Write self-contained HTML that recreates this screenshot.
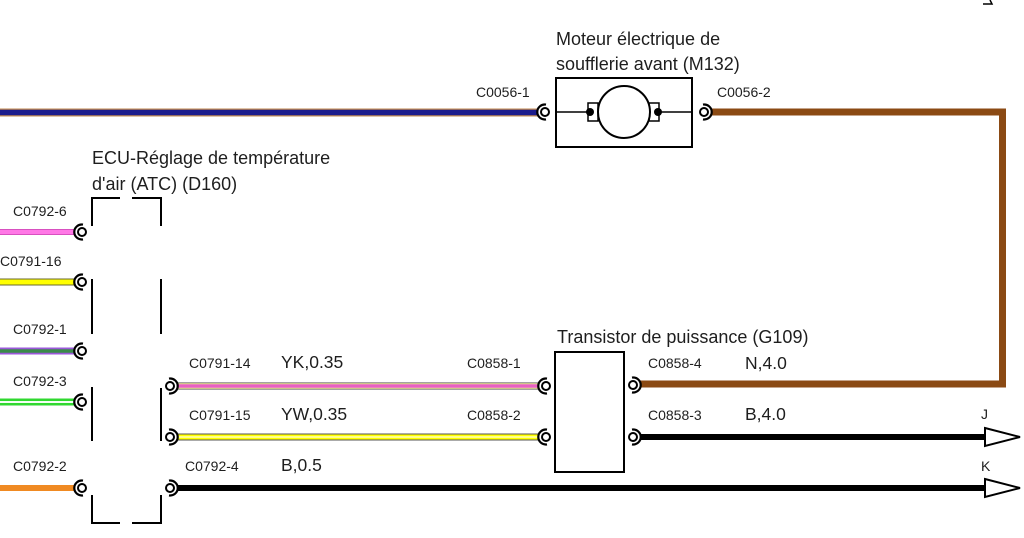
<!DOCTYPE html>
<html><head><meta charset="utf-8"><style>
html,body{margin:0;padding:0;background:#fff;}
svg{display:block;}
text{font-family:"Liberation Sans",Arial,sans-serif;fill:#1e1e1e;}
.s{font-size:14px;}
.m{font-size:17.5px;}
.b{font-size:18px;}
</style></head><body>
<svg width="1024" height="538" viewBox="0 0 1024 538" xmlns="http://www.w3.org/2000/svg">
<rect width="1024" height="538" fill="#fff"/>
<defs>
<g id="cl"><path d="M1 -7.4 A7.5 7.5 0 1 0 1 7.4" fill="none" stroke="#000" stroke-width="2.2"/><circle r="4" fill="#fff" stroke="#000" stroke-width="2"/></g>
<g id="cr"><path d="M-1 -7.4 A7.5 7.5 0 1 1 -1 7.4" fill="none" stroke="#000" stroke-width="2.2"/><circle r="4" fill="#fff" stroke="#000" stroke-width="2"/></g>
</defs>

<!-- top blue wire -->
<line x1="0" y1="112.5" x2="538" y2="112.5" stroke="#c08850" stroke-width="8"/>
<line x1="0" y1="112.5" x2="538" y2="112.5" stroke="#1c1c8c" stroke-width="5.5"/>

<!-- brown wire -->
<path d="M711 112 H1002.5 V384 H640" fill="none" stroke="#8b4a14" stroke-width="7" stroke-linejoin="miter"/>

<!-- motor -->
<rect x="556" y="78" width="136" height="69" fill="#fff" stroke="#000" stroke-width="2"/>
<line x1="556" y1="112" x2="692" y2="112" stroke="#000" stroke-width="1.5"/>
<rect x="588" y="103" width="10" height="18" fill="#fff" stroke="#000" stroke-width="1.5"/>
<rect x="649" y="103" width="10" height="18" fill="#fff" stroke="#000" stroke-width="1.5"/>
<circle cx="624" cy="112" r="26" fill="#fff" stroke="#000" stroke-width="2"/>
<circle cx="590" cy="112" r="4" fill="#000"/>
<circle cx="658" cy="112" r="4" fill="#000"/>
<use href="#cl" x="545" y="112"/>
<use href="#cr" x="704" y="112"/>

<!-- top-right mark -->
<path d="M983 4 L992 4 L990 0" fill="none" stroke="#000" stroke-width="1.5"/>

<!-- left wires -->
<line x1="0" y1="232" x2="75" y2="232" stroke="#d850c0" stroke-width="6"/>
<line x1="0" y1="232" x2="75" y2="232" stroke="#ff78e6" stroke-width="4"/>
<line x1="0" y1="282" x2="75" y2="282" stroke="#6a6a30" stroke-width="7"/>
<line x1="0" y1="282" x2="75" y2="282" stroke="#ffff00" stroke-width="5"/>
<line x1="0" y1="351" x2="75" y2="351" stroke="#9a58d8" stroke-width="7"/>
<line x1="0" y1="351" x2="75" y2="351" stroke="#3a8a4a" stroke-width="3.5"/>
<line x1="0" y1="402" x2="75" y2="402" stroke="#30d830" stroke-width="7"/>
<line x1="0" y1="402" x2="75" y2="402" stroke="#f4fff4" stroke-width="2"/>
<line x1="0" y1="488" x2="75" y2="488" stroke="#f08a22" stroke-width="6"/>
<use href="#cl" x="82" y="232"/>
<use href="#cl" x="82" y="282"/>
<use href="#cl" x="82" y="351"/>
<use href="#cl" x="82" y="402"/>
<use href="#cl" x="82" y="488"/>

<!-- ECU dashed box -->
<g fill="none" stroke="#000" stroke-width="2">
<path d="M92 226 V198 H120"/>
<path d="M132 198 H161 V226"/>
<path d="M92 279 V334"/>
<path d="M161 279 V334"/>
<path d="M92 387 V441"/>
<path d="M161 388 V441"/>
<path d="M92 495 V523 H120"/>
<path d="M132 523 H161 V495"/>
</g>

<!-- middle wires -->
<line x1="177" y1="386" x2="539" y2="386" stroke="#444" stroke-width="7"/>
<line x1="177" y1="386" x2="539" y2="386" stroke="#f8f0a0" stroke-width="5.5"/>
<line x1="177" y1="386" x2="539" y2="386" stroke="#e860c4" stroke-width="3.5"/>
<line x1="177" y1="437" x2="539" y2="437" stroke="#555" stroke-width="7"/>
<line x1="177" y1="437" x2="539" y2="437" stroke="#ffff00" stroke-width="5"/>
<line x1="177" y1="437" x2="539" y2="437" stroke="#ffffb8" stroke-width="1.5"/>
<line x1="177" y1="488" x2="988" y2="488" stroke="#000" stroke-width="6"/>
<line x1="640" y1="437" x2="988" y2="437" stroke="#000" stroke-width="6"/>
<use href="#cr" x="170" y="386"/>
<use href="#cr" x="170" y="437"/>
<use href="#cr" x="170" y="488"/>

<!-- transistor -->
<rect x="555" y="352" width="69" height="120" fill="#fff" stroke="#000" stroke-width="2"/>
<use href="#cl" x="546" y="386"/>
<use href="#cl" x="546" y="437"/>
<use href="#cr" x="633" y="385"/>
<use href="#cr" x="633" y="437"/>

<!-- arrows -->
<polygon points="985,428 1020,437 985,446" fill="#fff" stroke="#000" stroke-width="2"/>
<polygon points="985,479 1020,488 985,497" fill="#fff" stroke="#000" stroke-width="2"/>

<!-- labels -->
<text class="b" x="556" y="45">Moteur électrique de</text>
<text class="b" x="556" y="70">soufflerie avant (M132)</text>
<text class="s" x="476" y="97">C0056-1</text>
<text class="s" x="717" y="97">C0056-2</text>
<text class="b" x="92" y="164">ECU-Réglage de température</text>
<text class="b" x="92" y="190">d'air (ATC) (D160)</text>
<text class="s" x="13" y="216">C0792-6</text>
<text class="s" x="0" y="266">C0791-16</text>
<text class="s" x="13" y="334">C0792-1</text>
<text class="s" x="13" y="386">C0792-3</text>
<text class="s" x="13" y="471">C0792-2</text>
<text class="b" x="557" y="343">Transistor de puissance (G109)</text>
<text class="s" x="189" y="368">C0791-14</text>
<text class="m" x="281" y="368">YK,0.35</text>
<text class="s" x="467" y="368">C0858-1</text>
<text class="s" x="648" y="368">C0858-4</text>
<text class="m" x="745" y="369">N,4.0</text>
<text class="s" x="189" y="420">C0791-15</text>
<text class="m" x="281" y="420">YW,0.35</text>
<text class="s" x="467" y="420">C0858-2</text>
<text class="s" x="648" y="420">C0858-3</text>
<text class="m" x="745" y="420">B,4.0</text>
<text class="s" x="981" y="419">J</text>
<text class="s" x="185" y="471">C0792-4</text>
<text class="m" x="281" y="471">B,0.5</text>
<text class="s" x="981" y="471">K</text>
</svg>
</body></html>
